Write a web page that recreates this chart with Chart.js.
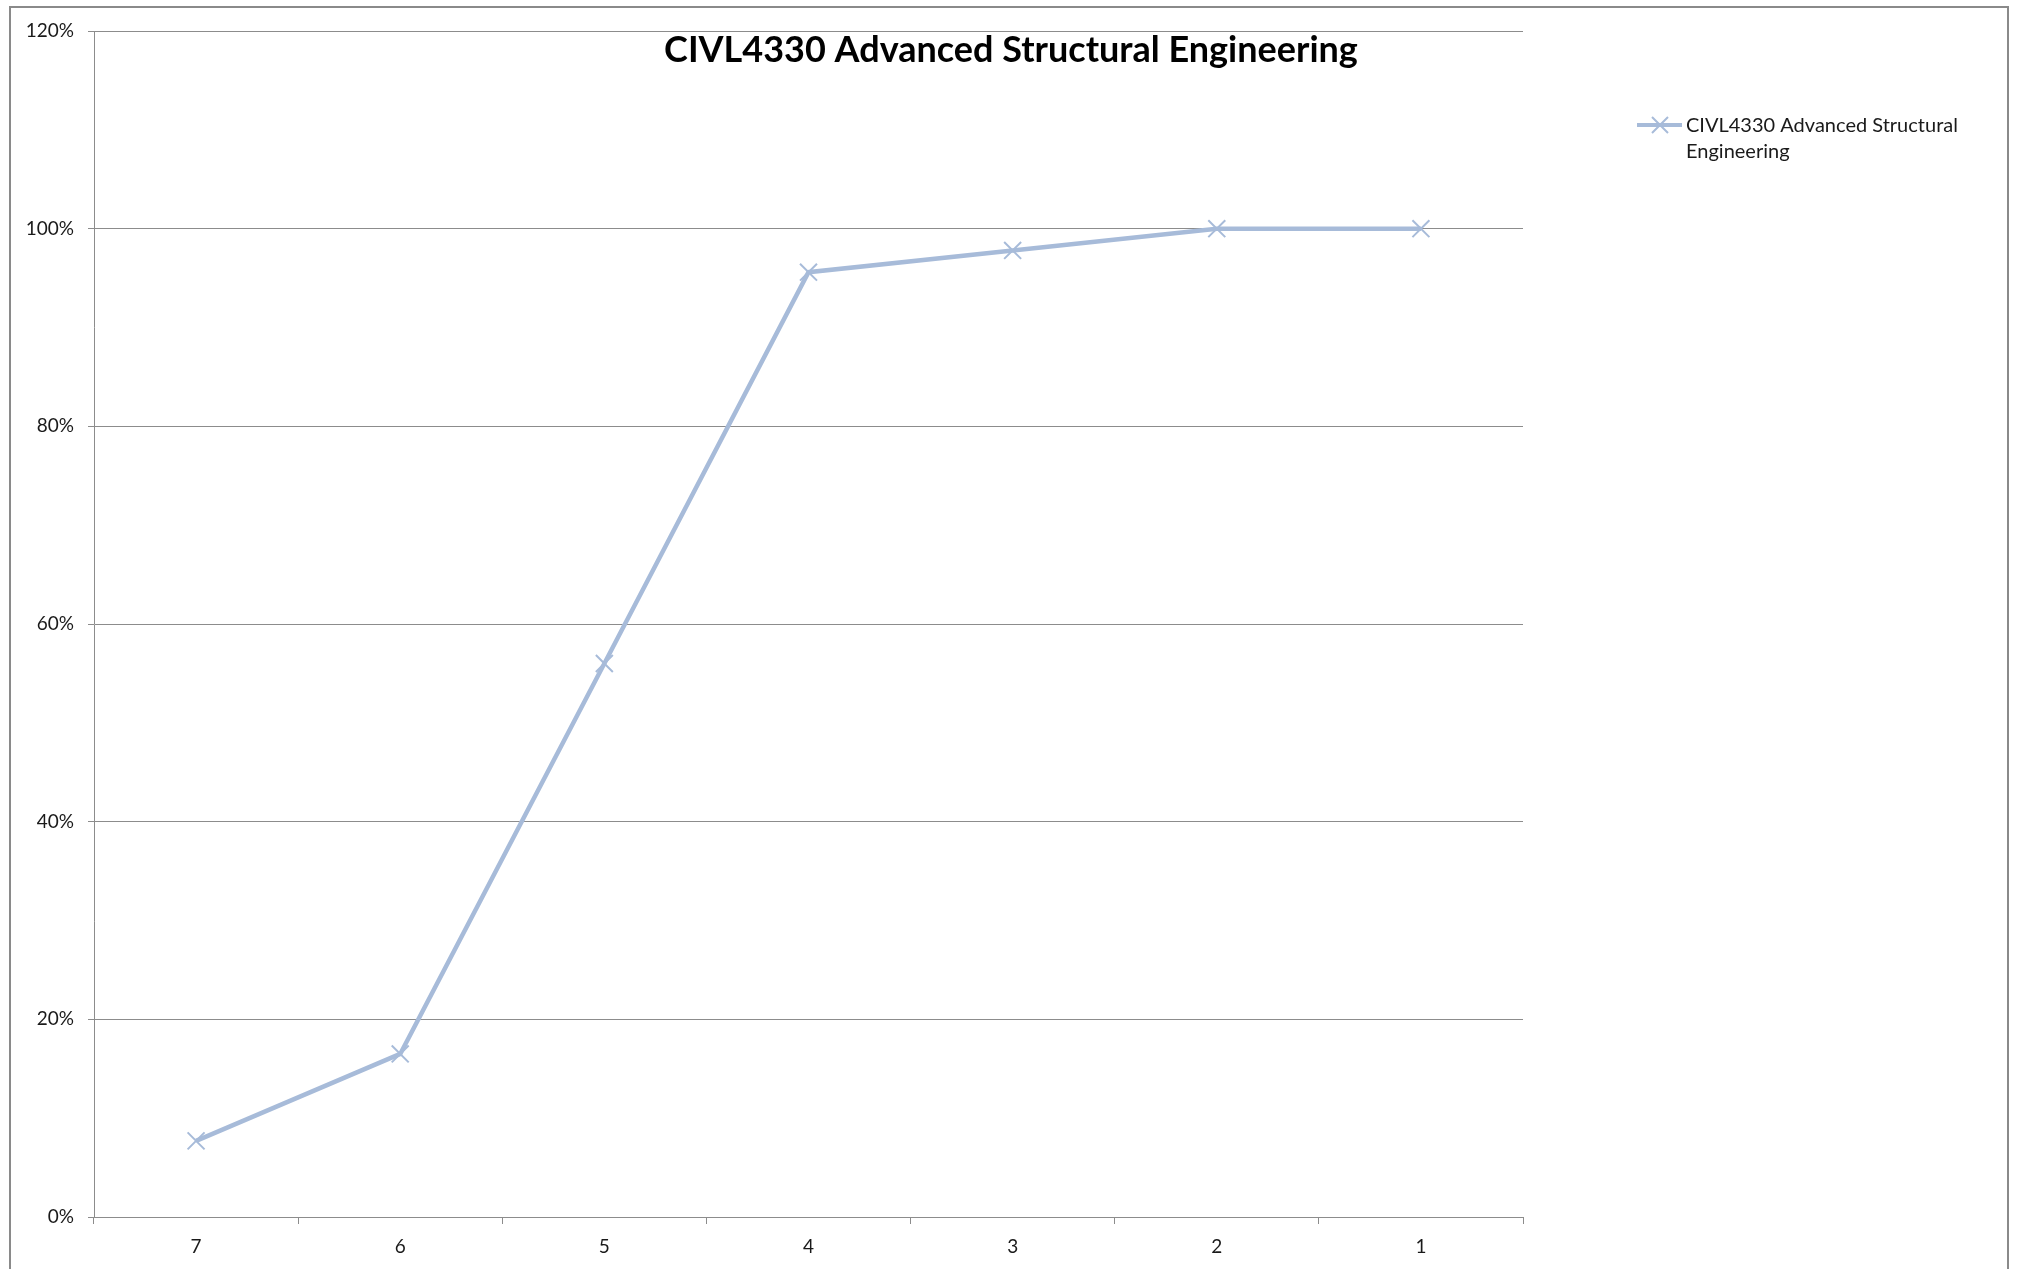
<!DOCTYPE html>
<html>
<head>
<meta charset="utf-8">
<script src="https://cdn.jsdelivr.net/npm/chart.js@4/dist/chart.umd.min.js"></script>
<style>
    html, body { margin: 0; padding: 0; background: #fff; overflow: hidden; }
    #frame { position: absolute; left: 9px; top: 6px; width: 1996px; height: 1300px; border: 2px solid #8a8a8a; }
    #wrap { position: absolute; left: 0; top: 0; width: 2022px; height: 1269px; }
</style>
</head>
<body>
<div id="frame"></div>
<div id="wrap"><canvas id="grade-chart"></canvas></div>
<script>
const chartTitle = 'CIVL4330 Advanced Structural Engineering';
const seriesLabel = 'CIVL4330 Advanced Structural Engineering';
const legendLines = ['CIVL4330 Advanced Structural', 'Engineering'];
const grades = ['7', '6', '5', '4', '3', '2', '1'];
const cumulativePercent = [7.7, 16.5, 56.0, 95.6, 97.8, 100, 100];
const yTicks = [0, 20, 40, 60, 80, 100, 120];

const lineColor = '#a7bbd9';
const gridColor = '#8c8c8c';
const fontFamily = 'Lato, "Open Sans", sans-serif';

// title sits inside the plot area and the legend wraps onto two lines, so both are drawn by hand
const overlayPlugin = {
    id: 'overlay',
    afterDraw(chart) {
        const ctx = chart.ctx;
        ctx.save();
        ctx.fillStyle = '#000';
        ctx.font = 'bold 36px ' + fontFamily;
        ctx.textAlign = 'center';
        ctx.textBaseline = 'alphabetic';
        ctx.fillText(chartTitle, 1011, 62);

        // legend symbol
        ctx.strokeStyle = lineColor;
        ctx.lineWidth = 4;
        ctx.beginPath();
        ctx.moveTo(1637, 125);
        ctx.lineTo(1682, 125);
        ctx.stroke();
        ctx.lineWidth = 2;
        ctx.beginPath();
        ctx.moveTo(1652, 117); ctx.lineTo(1668, 133);
        ctx.moveTo(1668, 117); ctx.lineTo(1652, 133);
        ctx.stroke();

        ctx.fillStyle = '#1a1a1a';
        ctx.font = '20px ' + fontFamily;
        ctx.textAlign = 'left';
        legendLines.forEach((line, i) => {
            ctx.fillText(line, 1686, 132 + i * 26);
        });
        ctx.restore();
    }
};

const ctx = document.getElementById('grade-chart').getContext('2d');
new Chart(ctx, {
    type: 'line',
    data: {
        labels: grades,
        datasets: [{
            label: seriesLabel,
            data: cumulativePercent,
            borderColor: lineColor,
            backgroundColor: lineColor,
            borderWidth: 4.5,
            fill: false,
            tension: 0,
            pointStyle: 'crossRot',
            pointRadius: 12,
            pointBorderWidth: 2,
            pointBorderColor: lineColor
        }]
    },
    options: {
        responsive: true,
        maintainAspectRatio: false,
        animation: false,
        layout: { padding: { left: 0, top: 31, right: 499, bottom: 0 } },
        plugins: {
            legend: { display: false },
            title: { display: false },
            tooltip: { enabled: false }
        },
        scales: {
            x: {
                offset: true,
                grid: {
                    offset: true,
                    drawOnChartArea: false,
                    drawTicks: true,
                    tickLength: 7,
                    color: gridColor
                },
                border: { color: gridColor, width: 1 },
                ticks: {
                    color: '#1a1a1a',
                    font: { family: fontFamily, size: 19 },
                    padding: 11
                },
                afterFit(scale) { scale.height = 52; }
            },
            y: {
                min: 0,
                max: 120,
                afterBuildTicks(scale) {
                    scale.ticks = yTicks.map(v => ({ value: v }));
                },
                grid: {
                    color: gridColor,
                    tickLength: 6,
                    drawTicks: true
                },
                border: { color: gridColor, width: 1 },
                ticks: {
                    color: '#1a1a1a',
                    font: { family: fontFamily, size: 19 },
                    padding: 14,
                    callback: v => v + '%'
                },
                afterFit(scale) { scale.width = 94; }
            }
        }
    },
    plugins: [overlayPlugin]
});
</script>
</body>
</html>
